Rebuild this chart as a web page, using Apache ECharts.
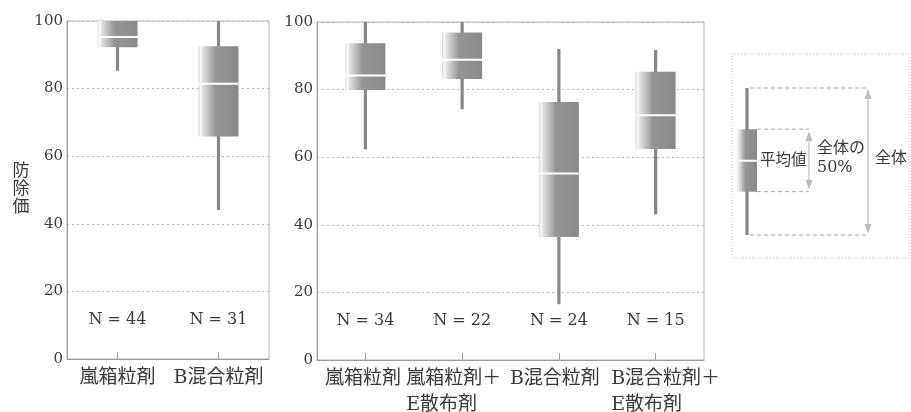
<!DOCTYPE html>
<html><head><meta charset="utf-8">
<script src="https://cdn.jsdelivr.net/npm/echarts@6/dist/echarts.min.js"></script>
<style>html,body{margin:0;padding:0;background:#fff}#c{width:911px;height:412px}</style>
</head><body><div id="c"></div>
<script>
// ---- data ----
var yTicks = [0, 20, 40, 60, 80, 100];
var catsL = ['嵐箱粒剤', 'B混合粒剤'];
var minL = [85.3, 44.1];
var q1L  = [92.2, 65.8];
var medL = [95.3, 81.4];
var q3L  = [100, 92.5];
var maxL = [100, 100];
var nL   = [44, 31];

var catsR = ['嵐箱粒剤', '嵐箱粒剤＋\nE散布剤', 'B混合粒剤', 'B混合粒剤＋\nE散布剤'];
var minR = [62.3, 74.2, 16.5, 43.1];
var q1R  = [79.9, 83.1, 36.4, 62.4];
var medR = [84.2, 88.8, 55.2, 72.4];
var q3R  = [93.7, 96.9, 76.3, 85.3];
var maxR = [100, 100, 92.0, 91.7];
var nR   = [34, 22, 24, 15];

var yAxisName = '防除価';
var legendCats = ['凡例'];
var legendSample = [0, 29.5, 50.5, 72, 100]; // min, q1, mean, q3, max (schematic)
var legendTexts = { mean: '平均値', half: '全体の\n50%', all: '全体' };

// ---- styling ----
var SERIF = '"DejaVu Serif", "Noto Sans CJK JP"';
var TXT = '#3a3a3a';
var N_LABEL_Y = 11.5;
var CAT_FONT = 19;
var labelShiftR = [-2, -8, -4, 10]; // horizontal nudges of right-panel category labels (px)

function boxFill() {
  return new echarts.graphic.LinearGradient(0, 0, 1, 0, [
    { offset: 0, color: '#d6d6d6' },
    { offset: 0.05, color: '#fbfbfb' },
    { offset: 0.1, color: '#e4e4e4' },
    { offset: 0.42, color: '#959595' },
    { offset: 1, color: '#8a8a8a' }
  ]);
}

function buildData(mins, q1s, meds, q3s, maxs, ns) {
  return mins.map(function (m, i) { return [i, m, q1s[i], meds[i], q3s[i], maxs[i], ns[i]]; });
}

function renderBox(params, api) {
  var x = api.value(0);
  var pMin = api.coord([x, api.value(1)]);
  var pQ1 = api.coord([x, api.value(2)]);
  var pMed = api.coord([x, api.value(3)]);
  var pQ3 = api.coord([x, api.value(4)]);
  var pMax = api.coord([x, api.value(5)]);
  var pN = api.coord([x, N_LABEL_Y]);
  var cx = pMin[0];
  var bw = 40;
  return {
    type: 'group',
    children: [
      { type: 'rect', shape: { x: cx - 1.6, y: pMax[1], width: 3.2, height: pMin[1] - pMax[1] }, style: { fill: '#878787' } },
      { type: 'rect', shape: { x: cx - bw / 2, y: pQ3[1], width: bw, height: pQ1[1] - pQ3[1] }, style: { fill: boxFill() } },
      { type: 'rect', shape: { x: cx - bw / 2, y: pMed[1] - 1, width: bw, height: 2 }, style: { fill: '#ffffff' } },
      { type: 'text', x: cx, y: pN[1], style: { text: 'N = ' + api.value(6), fontSize: 16, fontFamily: SERIF, fill: TXT, align: 'center', verticalAlign: 'middle' } }
    ]
  };
}

function arrow(x, y1, y2, color) {
  var h = 10, w = 3.5;
  return [
    { type: 'line', shape: { x1: x, y1: y1 + h, x2: x, y2: y2 - h }, style: { stroke: color, lineWidth: 1.2 } },
    { type: 'polygon', shape: { points: [[x, y1], [x - w, y1 + h], [x + w, y1 + h]] }, style: { fill: color } },
    { type: 'polygon', shape: { points: [[x, y2], [x - w, y2 - h], [x + w, y2 - h]] }, style: { fill: color } }
  ];
}

function renderLegend(params, api) {
  var x = api.value(0);
  var pMin = api.coord([x, api.value(1)]);
  var pQ1 = api.coord([x, api.value(2)]);
  var pMed = api.coord([x, api.value(3)]);
  var pQ3 = api.coord([x, api.value(4)]);
  var pMax = api.coord([x, api.value(5)]);
  var cx = pMin[0];
  var bw = 20;
  var dash = { stroke: '#a8a8a8', lineWidth: 1, lineDash: [4, 3] };
  var ac = '#bdbdbd';
  var smallX = cx + 62, bigX = cx + 121;
  var ch = [
    { type: 'rect', shape: { x: cx - 1.6, y: pMax[1], width: 3.2, height: pMin[1] - pMax[1] }, style: { fill: '#878787' } },
    { type: 'rect', shape: { x: cx - bw / 2, y: pQ3[1], width: bw, height: pQ1[1] - pQ3[1] }, style: { fill: boxFill() } },
    { type: 'rect', shape: { x: cx - bw / 2, y: pMed[1] - 1, width: bw, height: 2 }, style: { fill: '#ffffff' } },
    { type: 'line', shape: { x1: cx + 3, y1: pMax[1], x2: bigX, y2: pMax[1] }, style: dash },
    { type: 'line', shape: { x1: cx + 3, y1: pMin[1], x2: bigX, y2: pMin[1] }, style: dash },
    { type: 'line', shape: { x1: cx + bw / 2, y1: pQ3[1], x2: smallX, y2: pQ3[1] }, style: dash },
    { type: 'line', shape: { x1: cx + bw / 2, y1: pQ1[1], x2: smallX, y2: pQ1[1] }, style: dash },
    { type: 'text', x: cx + 13, y: pMed[1], style: { text: legendTexts.mean, fontSize: 15.5, fontFamily: SERIF, fill: TXT, align: 'left', verticalAlign: 'middle' } },
    { type: 'text', x: cx + 70, y: pMed[1] - 2, style: { text: legendTexts.half, fontSize: 16, lineHeight: 19, fontFamily: SERIF, fill: TXT, align: 'left', verticalAlign: 'middle' } },
    { type: 'text', x: cx + 128, y: pMed[1] - 2, style: { text: legendTexts.all, fontSize: 16, fontFamily: SERIF, fill: TXT, align: 'left', verticalAlign: 'middle' } }
  ];
  ch = ch.concat(arrow(smallX, pQ3[1] + 2, pQ1[1] - 2, ac)).concat(arrow(bigX, pMax[1] + 1, pMin[1] - 1, ac));
  return { type: 'group', children: ch };
}

function makeRich(cats, shifts) {
  var ctx = document.createElement('canvas').getContext('2d');
  ctx.font = CAT_FONT + 'px ' + SERIF;
  var rich = {};
  cats.forEach(function (c, i) {
    var w = 0;
    c.split('\n').forEach(function (l) { w = Math.max(w, ctx.measureText(l).width); });
    var s = shifts[i] || 0;
    rich['c' + i] = {
      width: Math.ceil(w), align: 'left', fontSize: CAT_FONT, fontFamily: SERIF, color: TXT, lineHeight: 26,
      padding: s >= 0 ? [0, 0, 0, 2 * s] : [0, -2 * s, 0, 0]
    };
  });
  return rich;
}

function yAxisCfg(gi, withName) {
  var c = {
    type: 'value', gridIndex: gi, min: 0, max: 100, interval: 20,
    axisLine: { show: true, lineStyle: { color: '#9a9a9a' } },
    axisTick: { show: false },
    axisLabel: { fontSize: 15, fontFamily: SERIF, color: TXT, margin: 4 },
    splitLine: { show: true, lineStyle: { color: '#bbbbbb', type: [2, 3] } }
  };
  if (withName) {
    c.name = yAxisName.split('').join('\n');
    c.nameLocation = 'middle';
    c.nameRotate = 0;
    c.nameGap = 37;
    c.nameTextStyle = { fontSize: 17, lineHeight: 18, fontFamily: SERIF, color: TXT, padding: [0, 0, 14, 0] };
  }
  return c;
}

function xAxisCfg(gi, cats, rich) {
  var c = {
    type: 'category', gridIndex: gi, data: cats,
    axisLine: { show: true, lineStyle: { color: '#9a9a9a' } },
    axisTick: { show: true, inside: true, length: 7, alignWithLabel: true, lineStyle: { color: '#9a9a9a' } },
    axisLabel: { fontSize: CAT_FONT, fontFamily: SERIF, color: TXT, margin: 6, lineHeight: 26, interval: 0 },
    splitLine: { show: false }
  };
  if (rich) {
    c.axisLabel.rich = rich;
    c.axisLabel.formatter = function (v, i) {
      return v.split('\n').map(function (l) { return '{c' + i + '|' + l + '}'; }).join('\n');
    };
  }
  return c;
}

var chart = echarts.init(document.getElementById('c'), null, { renderer: 'canvas' });
chart.setOption({
  backgroundColor: '#ffffff',
  animation: false,
  grid: [
    { left: 67, top: 21, width: 202, height: 338, show: true, borderColor: '#b4b4b4', borderWidth: 1, backgroundColor: 'transparent', containLabel: false, outerBoundsMode: 'none' },
    { left: 317, top: 22, width: 387, height: 338, show: true, borderColor: '#b4b4b4', borderWidth: 1, backgroundColor: 'transparent', containLabel: false, outerBoundsMode: 'none' },
    { left: 737, top: 88, width: 20, height: 147, show: false, containLabel: false, outerBoundsMode: 'none' }
  ],
  xAxis: [
    xAxisCfg(0, catsL, null),
    xAxisCfg(1, catsR, makeRich(catsR, labelShiftR)),
    { type: 'category', gridIndex: 2, data: legendCats, show: false }
  ],
  yAxis: [
    yAxisCfg(0, true),
    yAxisCfg(1, false),
    { type: 'value', gridIndex: 2, min: 0, max: 100, show: false }
  ],
  graphic: [
    { type: 'rect', shape: { x: 732, y: 54, width: 177, height: 204 }, style: { fill: 'none', stroke: '#bdbdbd', lineWidth: 1, lineDash: [1, 2] } }
  ],
  series: [
    { type: 'custom', xAxisIndex: 0, yAxisIndex: 0, renderItem: renderBox, data: buildData(minL, q1L, medL, q3L, maxL, nL), encode: { x: 0, y: [1, 2, 3, 4, 5] }, clip: false },
    { type: 'custom', xAxisIndex: 1, yAxisIndex: 1, renderItem: renderBox, data: buildData(minR, q1R, medR, q3R, maxR, nR), encode: { x: 0, y: [1, 2, 3, 4, 5] }, clip: false },
    { type: 'custom', xAxisIndex: 2, yAxisIndex: 2, renderItem: renderLegend, data: [[0].concat(legendSample)], encode: { x: 0, y: [1, 2, 3, 4, 5] }, clip: false }
  ]
});
</script>
</body></html>
